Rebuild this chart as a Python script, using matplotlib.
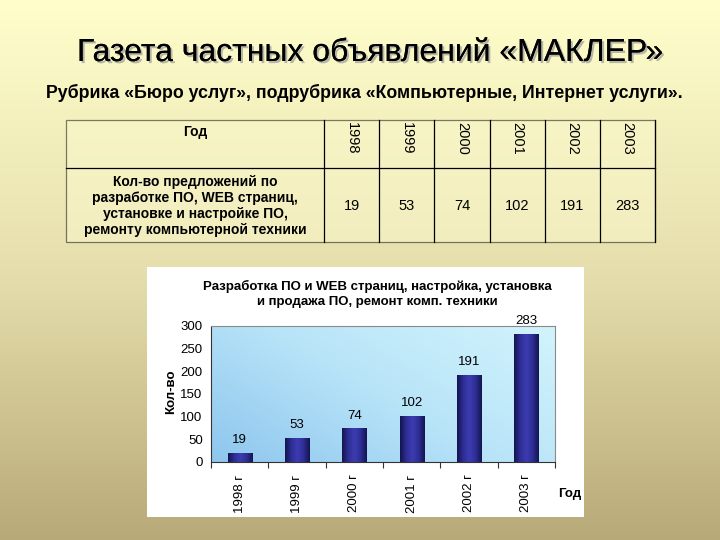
import numpy as np
import matplotlib
matplotlib.use('Agg')
import matplotlib.pyplot as plt
import matplotlib.patheffects as pe
from matplotlib.colors import LinearSegmentedColormap
from matplotlib.patches import Rectangle

plt.rcParams['font.family'] = ['Liberation Sans', 'DejaVu Sans']

# данные
years = ['1998', '1999', '2000', '2001', '2002', '2003']
offers = [19, 53, 74, 102, 191, 283]
year_labels = [y + ' г' for y in years]
row_header = 'Год'
row_label = 'Кол-во предложений по\nразработке ПО, WEB страниц,\nустановке и настройке ПО,\nремонту компьютерной техники'

title = 'Газета частных объявлений «МАКЛЕР»'
subtitle = 'Рубрика «Бюро услуг», подрубрика «Компьютерные, Интернет услуги».'
chart_title = 'Разработка ПО и WEB страниц, настройка, установка\nи продажа ПО, ремонт комп. техники'

W, H = 720, 540
fig = plt.figure(figsize=(7.2, 5.4), dpi=100)

# фон слайда: вертикальный градиент
bg = fig.add_axes([0, 0, 1, 1])
bg_cmap = LinearSegmentedColormap.from_list('bg', ['#ffffcc', '#e6dfad', '#b8aa78'])
bg.imshow(np.linspace(0, 1, 256).reshape(-1, 1), aspect='auto', cmap=bg_cmap,
          extent=[0, W, H, 0])
bg.set_xlim(0, W)
bg.set_ylim(H, 0)
bg.axis('off')

# заголовки
bg.text(371, 53, title, fontsize=23, ha='center', va='center',
        path_effects=[pe.withSimplePatchShadow(offset=(1.5, -1.5), shadow_rgbFace='#9a9a9a', alpha=0.7), pe.Normal()])
bg.text(364, 93, subtitle, fontsize=12.8, ha='center', va='center', fontweight='bold')

# таблица
tx0, tx1 = 66, 655
tc = 324
ty0, ty1, ty2 = 120, 168, 242
col_w = (tx1 - tc) / len(years)
bg.add_patch(Rectangle((tx0, ty0), tx1 - tx0, ty2 - ty0, facecolor='#fbf8cc', alpha=0.5,
                       edgecolor='black', linewidth=0.9))
bg.plot([tx0, tx1], [ty1, ty1], color='black', linewidth=0.9)
for i in range(len(years) + 1):
    x = tc + i * col_w
    bg.plot([x, x], [ty0, ty2], color='black', linewidth=0.9)
bg.text((tx0 + tc) / 2, 132, row_header, fontsize=10, fontweight='bold', ha='center', va='center')
bg.text((tx0 + tc) / 2, (ty1 + ty2) / 2 + 1, row_label, fontsize=10, fontweight='bold',
        ha='center', va='center', linespacing=1.2)
for i, (yr, v) in enumerate(zip(years, offers)):
    cx = tc + (i + 0.5) * col_w
    bg.text(cx, 138, yr, fontsize=10.5, rotation=270, ha='center', va='center')
    bg.text(cx, 206, str(v), fontsize=10.5, ha='center', va='center')

# белая область диаграммы
bg.add_patch(Rectangle((147, 267), 584 - 147, 517 - 267, facecolor='white', edgecolor='none'))
bg.text(377, 294, chart_title, fontsize=9.5, fontweight='bold', ha='center', va='center',
        linespacing=1.4)
bg.text(171, 392, 'Кол-во', fontsize=9.5, fontweight='bold', rotation=90, ha='center', va='center')
bg.text(570, 494, 'Год', fontsize=9.5, fontweight='bold', ha='center', va='center')

# область построения
px0, px1, py0, py1 = 211, 555, 326, 462
ax = fig.add_axes([px0 / W, 1 - py1 / H, (px1 - px0) / W, (py1 - py0) / H])
ax.set_xlim(-0.5, len(years) - 0.5)
ax.set_ylim(0, 300)

gx, gy = np.meshgrid(np.linspace(0, 1, 200), np.linspace(0, 1, 200))
grad = 0.6 * gx + 0.4 * gy
plot_cmap = LinearSegmentedColormap.from_list('pl', ['#8ec6ee', '#b8e4f8', '#d2f4fc'])
ax.imshow(grad, origin='lower', cmap=plot_cmap, aspect='auto',
          extent=[-0.5, len(years) - 0.5, 0, 300], zorder=0)

bar_cmap = LinearSegmentedColormap.from_list('bar', ['#141450', '#2e2e96', '#3c3cb0', '#2e2e96', '#141450'])
xs = np.arange(len(years))
bars = ax.bar(xs, offers, width=0.42, color='#2a2a8a', zorder=2)
for b in bars:
    x, y = b.get_x(), b.get_y()
    w, h = b.get_width(), b.get_height()
    im = ax.imshow(np.linspace(0, 1, 64).reshape(1, -1), cmap=bar_cmap, aspect='auto',
                   extent=[x, x + w, y, y + h], zorder=3)
    im.set_clip_path(b)
for x, v in zip(xs, offers):
    ax.annotate(str(v), (x, v), xytext=(0, 5), textcoords='offset points',
                ha='center', va='bottom', fontsize=9.5)

ax.set_yticks(range(0, 301, 50))
ax.tick_params(axis='y', length=0, labelsize=9.5, pad=6)
ax.set_xticks(xs)
ax.set_xticklabels(year_labels, rotation=90, fontsize=9.5)
ax.tick_params(axis='x', length=0, pad=9)
ax.set_xticks(np.arange(-0.5, len(years)), minor=True)
ax.tick_params(axis='x', which='minor', length=4, width=0.8, color='#333333')
for s in ['top', 'right']:
    ax.spines[s].set_color('#8a8a8a')
for s in ['left', 'bottom']:
    ax.spines[s].set_color('#333333')

fig.savefig('out.png', dpi=100)
